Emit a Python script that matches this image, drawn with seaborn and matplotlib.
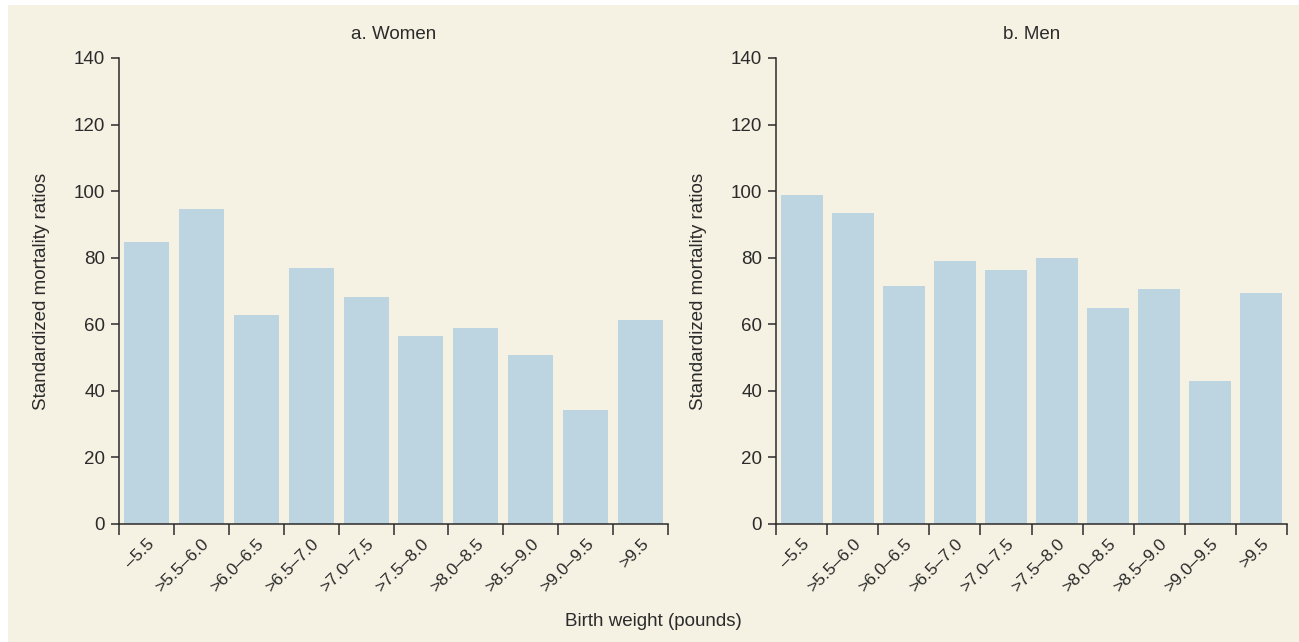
import matplotlib.pyplot as plt
import matplotlib.patches as mpatches
from matplotlib.ticker import FixedLocator
import seaborn as sns
import pandas as pd
import numpy as np

# ------------------------------------------------------------------
# Data
# ------------------------------------------------------------------
weight_bins = ["\u20135.5", ">5.5\u20136.0", ">6.0\u20136.5", ">6.5\u20137.0",
               ">7.0\u20137.5", ">7.5\u20138.0", ">8.0\u20138.5", ">8.5\u20139.0",
               ">9.0\u20139.5", ">9.5"]
women_smr = [84.6, 94.5, 62.9, 76.8, 68.3, 56.6, 59.0, 50.9, 34.3, 61.4]
men_smr = [98.7, 93.3, 71.6, 78.9, 76.2, 79.8, 65.0, 70.7, 43.1, 69.5]
panel_titles = ["a. Women", "b. Men"]
y_ticks = [0, 20, 40, 60, 80, 100, 120, 140]

BG = "#F5F1E3"
BAR = "#BDD5E1"
INK = "#2b2b2b"

sns.set_style("ticks")
plt.rcParams["font.family"] = ["Liberation Sans Narrow", "Liberation Sans", "DejaVu Sans"]
plt.rcParams["text.color"] = INK
plt.rcParams["axes.labelcolor"] = INK
plt.rcParams["xtick.color"] = INK
plt.rcParams["ytick.color"] = INK

fig = plt.figure(figsize=(12.99, 6.42), dpi=100, facecolor=BG)
# thin white margin along the top and left edges
fig.patches.append(mpatches.Rectangle((0, 1 - 5 / 642), 1, 5 / 642,
                                      transform=fig.transFigure,
                                      facecolor="white", edgecolor="none"))
fig.patches.append(mpatches.Rectangle((0, 0), 8 / 1299, 1,
                                      transform=fig.transFigure,
                                      facecolor="white", edgecolor="none"))

bottom = 118 / 642
height = 466 / 642
ax_w = fig.add_axes([119 / 1299, bottom, 549 / 1299, height])
ax_m = fig.add_axes([776 / 1299, bottom, 511 / 1299, height])

for ax, vals, title in zip([ax_w, ax_m], [women_smr, men_smr], panel_titles):
    df = pd.DataFrame({"bin": weight_bins, "smr": vals})
    sns.barplot(data=df, x="bin", y="smr", color=BAR, saturation=1,
                width=0.82, ax=ax, zorder=2, edgecolor="none", linewidth=0)
    ax.set_facecolor("none")
    ax.set_xlim(-0.5, len(weight_bins) - 0.5)
    ax.set_ylim(0, 140)
    ax.set_yticks(y_ticks)
    ax.tick_params(axis="y", labelsize=13.5, length=6, width=1.1, pad=4)

    # labels at bar centres, tick marks at category edges
    ax.set_xticks(np.arange(len(weight_bins)))
    ax.set_xticklabels(weight_bins, rotation=45, ha="right",
                       rotation_mode="anchor", fontsize=12.5)
    ax.tick_params(axis="x", which="major", length=0, pad=9)
    ax.xaxis.set_minor_locator(FixedLocator(np.arange(-0.5, len(weight_bins), 1.0)))
    ax.tick_params(axis="x", which="minor", length=8, width=1.1)

    for side in ["top", "right"]:
        ax.spines[side].set_visible(False)
    for side in ["left", "bottom"]:
        ax.spines[side].set_linewidth(1.1)
        ax.spines[side].set_color(INK)

    ax.set_xlabel("")
    ax.set_ylabel("Standardized mortality ratios", fontsize=13.5, labelpad=17)
    ax.set_title(title, fontsize=13.5, pad=14)

fig.text(653 / 1299, 1 - 621 / 642, "Birth weight (pounds)", ha="center",
         va="center", fontsize=13.5)

fig.savefig("out.png", dpi=100, facecolor=fig.get_facecolor())
